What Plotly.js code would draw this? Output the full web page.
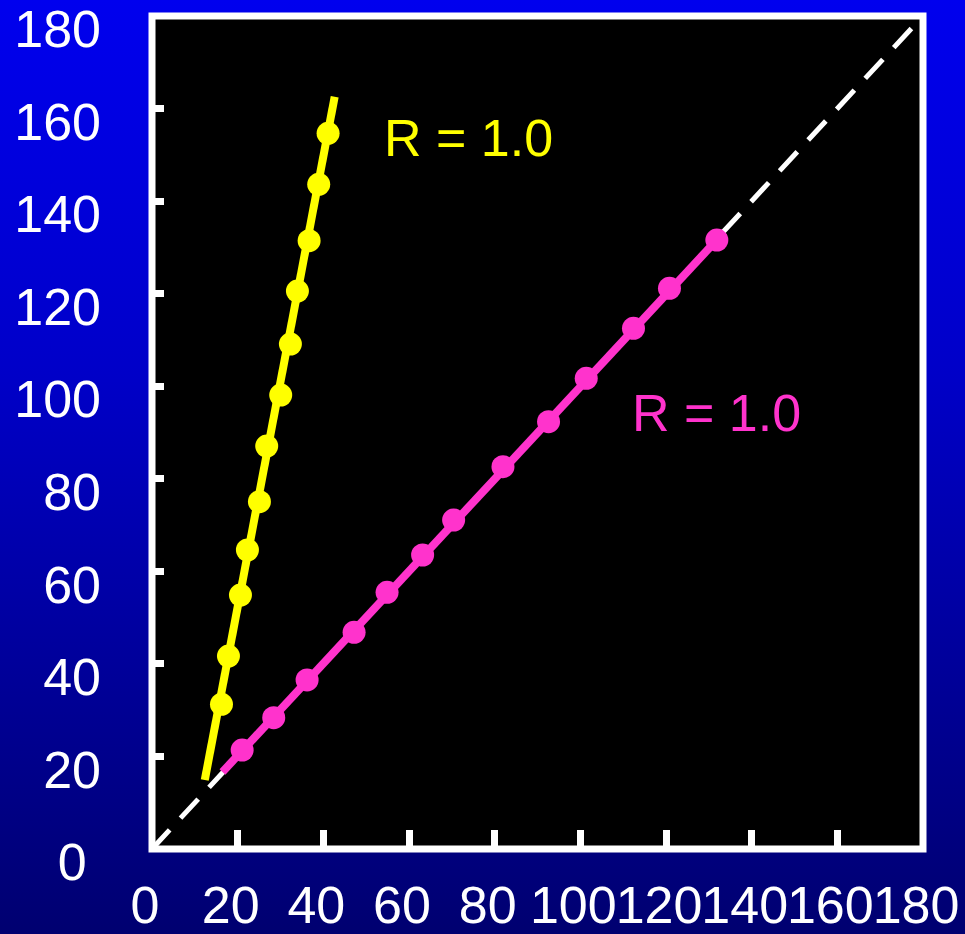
<!DOCTYPE html>
<html>
<head>
<meta charset="utf-8">
<script src="https://cdn.plot.ly/plotly-3.0.1.min.js"></script>
<style>
  html, body { margin: 0; padding: 0; }
  body {
    width: 965px; height: 934px; overflow: hidden;
    background: linear-gradient(to bottom, rgb(0,0,238) 0%, rgb(0,0,200) 40%, rgb(0,0,112) 100%);
  }
  #chart { width: 965px; height: 934px; }
</style>
</head>
<body>
<div id="chart"></div>
<script>
// Steep series (yellow) and near-identity series (magenta)
const yellowX = [16.22, 17.85, 20.65, 22.28, 25.08, 26.78, 30.05, 32.31, 33.95, 36.68, 38.92, 41.11];
const yellowY = [31.27, 41.70, 54.88, 64.61, 75.04, 87.08, 98.10, 109.12, 120.57, 131.44, 143.63, 154.65];
const yellowFitX = [12.32, 42.65];
const yellowFitY = [14.91, 162.55];

const pinkX = [21.05, 28.42, 36.21, 47.18, 54.88, 63.18, 70.42, 81.94, 92.58, 101.38, 112.41, 120.81, 131.87];
const pinkY = [21.39, 28.37, 36.52, 46.82, 55.47, 63.53, 71.09, 82.61, 92.33, 101.71, 112.51, 121.15, 131.59];
const pinkFitX = [16.45, 133.58];
const pinkFitY = [16.64, 133.32];

// Line of identity
const identityX = [0, 180];
const identityY = [0, 180];

const tickVals = [0, 20, 40, 60, 80, 100, 120, 140, 160, 180];
const xTickText = ['0', '20', '40', '60', '80', '100', '120', '140', '160', '180'];
const yTickText = ['0\u00a0', '20', '40', '60', '80', '100', '120', '140', '160', '180'];

const yellowLabel = 'R = 1.0';
const pinkLabel = 'R = 1.0';

const YELLOW = '#FFFF00';
const PINK = '#FF33CC';
const FONT = 'Arial, "Liberation Sans", sans-serif';

const traces = [
  { x: identityX, y: identityY, mode: 'lines', type: 'scatter',
    line: { color: '#FFFFFF', width: 5, dash: '26px,16px' }, hoverinfo: 'skip' },
  { x: yellowFitX, y: yellowFitY, mode: 'lines', type: 'scatter',
    line: { color: YELLOW, width: 8 } },
  { x: yellowX, y: yellowY, mode: 'markers', type: 'scatter',
    marker: { color: YELLOW, size: 23 } },
  { x: pinkFitX, y: pinkFitY, mode: 'lines', type: 'scatter',
    line: { color: PINK, width: 8 } },
  { x: pinkX, y: pinkY, mode: 'markers', type: 'scatter',
    marker: { color: PINK, size: 23 } }
];

const axisCommon = {
  range: [0, 180],
  tickmode: 'array',
  tickvals: tickVals,
  tickangle: 0,
  ticks: 'inside',
  tickcolor: '#FFFFFF',
  tickwidth: 7,
  showgrid: false,
  zeroline: false,
  showline: false,
  ticklabeloverflow: 'allow',
  tickfont: { family: FONT, size: 52, color: '#FFFFFF' },
  fixedrange: true
};

const layout = {
  width: 965,
  height: 934,
  margin: { l: 152, r: 42, t: 16, b: 85 },
  paper_bgcolor: 'rgba(0,0,0,0)',
  plot_bgcolor: '#000000',
  showlegend: false,
  xaxis: Object.assign({}, axisCommon, { ticktext: xTickText, ticklen: 19, ticklabelshift: -7, ticklabelstandoff: 21 }),
  yaxis: Object.assign({}, axisCommon, { ticktext: yTickText, ticklen: 12, ticklabelshift: 13, ticklabelstandoff: 50 }),
  shapes: [
    { type: 'rect', xref: 'paper', yref: 'paper', x0: 0, x1: 1, y0: 0, y1: 1,
      line: { color: '#FFFFFF', width: 7 }, layer: 'above' }
  ],
  annotations: [
    { x: 73.8, y: 153.7, xref: 'x', yref: 'y', text: yellowLabel, showarrow: false,
      xanchor: 'center', yanchor: 'middle', font: { family: FONT, size: 52, color: YELLOW } },
    { x: 131.7, y: 94.3, xref: 'x', yref: 'y', text: pinkLabel, showarrow: false,
      xanchor: 'center', yanchor: 'middle', font: { family: FONT, size: 52, color: PINK } }
  ]
};

Plotly.newPlot('chart', traces, layout, { staticPlot: true, displayModeBar: false });
</script>
</body>
</html>
